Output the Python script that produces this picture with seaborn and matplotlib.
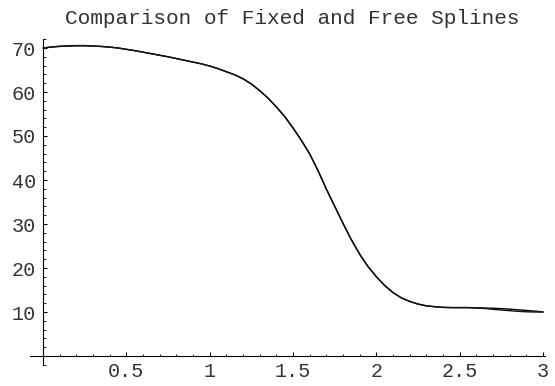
import numpy as np
import pandas as pd
import matplotlib
matplotlib.use("Agg")
import matplotlib.pyplot as plt
from matplotlib.ticker import MultipleLocator, FixedLocator
import seaborn as sns

# Data (x step 0.05)
x_vals = [0.00, 0.05, 0.10, 0.15, 0.20, 0.25, 0.30, 0.35, 0.40, 0.45,
          0.50, 0.55, 0.60, 0.65, 0.70, 0.75, 0.80, 0.85, 0.90, 0.95,
          1.00, 1.05, 1.10, 1.15, 1.20, 1.25, 1.30, 1.35, 1.40, 1.45,
          1.50, 1.55, 1.60, 1.65, 1.70, 1.75, 1.80, 1.85, 1.90, 1.95,
          2.00, 2.05, 2.10, 2.15, 2.20, 2.25, 2.30, 2.35, 2.40, 2.45,
          2.50, 2.55, 2.60, 2.65, 2.70, 2.75, 2.80, 2.85, 2.90, 2.95,
          3.00]
fixed_spline = [70.0, 70.2, 70.35, 70.45, 70.5, 70.5, 70.45, 70.35, 70.2, 70.0,
                69.7, 69.4, 69.05, 68.7, 68.35, 68.0, 67.6, 67.2, 66.8, 66.4,
                65.9, 65.3, 64.6, 63.9, 63.0, 61.8, 60.3, 58.6, 56.6, 54.4,
                51.8, 49.0, 45.9, 42.1, 37.9, 34.0, 30.1, 26.4, 23.1, 20.3,
                18.0, 16.0, 14.4, 13.2, 12.4, 11.8, 11.4, 11.2, 11.05, 11.0,
                11.0, 11.0, 10.95, 10.9, 10.85, 10.75, 10.65, 10.5, 10.35, 10.2,
                10.0]
free_spline = [70.0, 70.25, 70.4, 70.5, 70.55, 70.55, 70.45, 70.35, 70.2, 70.0,
               69.7, 69.4, 69.05, 68.7, 68.35, 68.0, 67.6, 67.2, 66.8, 66.4,
               65.9, 65.3, 64.6, 63.9, 63.0, 61.8, 60.3, 58.6, 56.6, 54.4,
               51.8, 49.0, 45.9, 42.1, 37.9, 34.0, 30.1, 26.4, 23.1, 20.3,
               18.0, 16.0, 14.4, 13.2, 12.4, 11.8, 11.4, 11.2, 11.05, 11.0,
               11.0, 11.0, 10.9, 10.8, 10.6, 10.45, 10.3, 10.15, 10.05, 10.0,
               10.0]
x_ticks = [0.5, 1, 1.5, 2, 2.5, 3]
x_tick_labels = ["0.5", "1", "1.5", "2", "2.5", "3"]
y_ticks = [10, 20, 30, 40, 50, 60, 70]
title = "Comparison of Fixed and Free Splines"

df = pd.DataFrame({
    "x": x_vals * 2,
    "y": fixed_spline + free_spline,
    "spline": ["Fixed"] * len(x_vals) + ["Free"] * len(x_vals),
})

sns.set_style("ticks")
mono = ["Liberation Mono", "DejaVu Sans Mono"]
text_color = "#333333"

fig = plt.figure(figsize=(5.55, 3.86), dpi=100)
W, H = 555, 386
left_px, right_px = 29.7, 544.8
top_px, bottom_px = 39.2, 364.8
ax = fig.add_axes([left_px / W, 1 - bottom_px / H,
                   (right_px - left_px) / W, (bottom_px - top_px) / H])

sns.lineplot(data=df, x="x", y="y", hue="spline",
             palette=["black", "#111111"], linewidth=1.0,
             legend=False, ax=ax, sort=True)

ax.set_xlim(-0.08, 3.01)
ax.set_ylim(-2, 72)
ax.set_xlabel("")
ax.set_ylabel("")

for s in ["top", "right"]:
    ax.spines[s].set_visible(False)
ax.spines["left"].set_position(("data", 0))
ax.spines["bottom"].set_position(("data", 0))
for s in ["left", "bottom"]:
    ax.spines[s].set_linewidth(0.8)
    ax.spines[s].set_color("black")

ax.xaxis.set_major_locator(FixedLocator(x_ticks))
ax.set_xticklabels(x_tick_labels)
ax.xaxis.set_minor_locator(MultipleLocator(0.1))
ax.yaxis.set_major_locator(FixedLocator(y_ticks))
ax.yaxis.set_minor_locator(MultipleLocator(2))

ax.tick_params(axis="both", which="both", bottom=True, left=True,
               top=False, right=False)
ax.tick_params(axis="both", which="major", direction="in", length=3.2,
               width=0.8, color="black", labelsize=14.5, labelcolor=text_color)
ax.tick_params(axis="both", which="minor", direction="in", length=1.8,
               width=0.6, color="black")
ax.tick_params(axis="x", which="major", pad=4)
ax.tick_params(axis="y", which="major", pad=5)
for lab in ax.get_xticklabels() + ax.get_yticklabels():
    lab.set_family(mono)

fig.text(292.5 / W, 1 - 18 / H, title, ha="center", va="center",
         fontsize=15.2, family=mono, color=text_color)

fig.savefig("out.png", dpi=100)
